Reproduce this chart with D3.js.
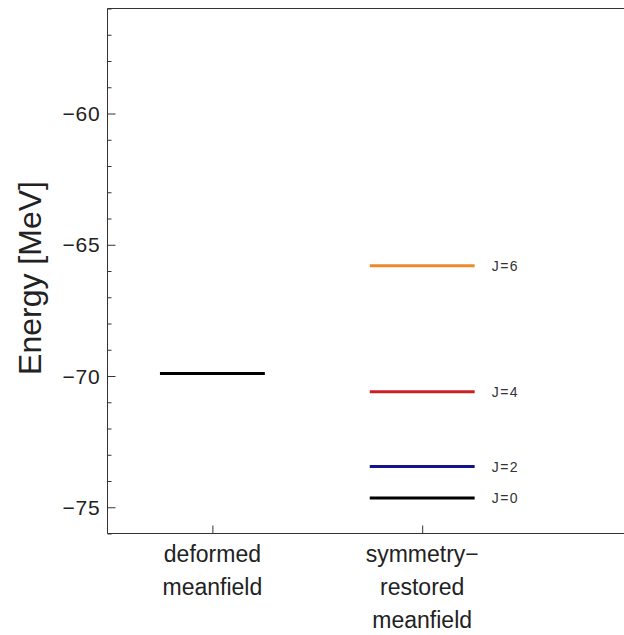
<!DOCTYPE html>
<html><head><meta charset="utf-8">
<script src="https://cdn.jsdelivr.net/npm/d3@7"></script>
<style>body{margin:0;background:#fff}svg{display:block}text{font-family:"Liberation Sans",Arial,sans-serif}</style>
</head><body><svg id="c" width="624" height="635"></svg>
<script>
const categories = ["deformed meanfield", "symmetry\u2212 restored meanfield"];
const categoryLines = [["deformed","meanfield"],["symmetry\u2212","restored","meanfield"]];
const levelCategory = [0, 1, 1, 1, 1];
const levelEnergy = [-69.9, -65.8, -70.6, -73.45, -74.65];
const levelLabel = ["", "J=6", "J=4", "J=2", "J=0"];
const levelColor = ["#000000", "#ec8a2a", "#cc2020", "#141488", "#000000"];
const yTicks = [-75, -70, -65, -60];

const svg = d3.select("#c");
const L = 107.5, T = 8.5, B = 533.5, R = 632;
const x = d3.scaleLinear().domain([0.5, 3]).range([L, R]);
const y = d3.scaleLinear().domain([-76, -56]).range([B, T]);

// frame
svg.append("path").attr("d", `M${L},${B}V${T}H${R}`).attr("fill","none").attr("stroke","#333").attr("stroke-width",1);
svg.append("path").attr("d", `M${L},${B}H${R}`).attr("fill","none").attr("stroke","#333").attr("stroke-width",1);

// y axis major ticks
const yAxis = d3.axisRight(y).tickValues(yTicks).tickSize(8).tickFormat("");
const gy = svg.append("g").attr("transform",`translate(${L},0)`).call(yAxis);
gy.select(".domain").remove();
gy.selectAll("line").attr("stroke","#333");
// minor ticks
const minor = d3.range(-76, -55).filter(v => !yTicks.includes(v));
const gym = svg.append("g").attr("transform",`translate(${L},0)`).call(d3.axisRight(y).tickValues(minor).tickSize(4).tickFormat(""));
gym.select(".domain").remove();
gym.selectAll("line").attr("stroke","#333");
// y tick labels
svg.append("g").selectAll("text").data(yTicks).join("text")
  .attr("x", L - 7).attr("y", d => y(d)).attr("dy","0.36em")
  .attr("text-anchor","end").attr("font-size",21).attr("letter-spacing","0.8px").attr("fill","#222")
  .text(d => d3.format("")(d).replace("-","\u2212"));

// y label
svg.append("text").attr("transform",`translate(41,278) rotate(-90)`)
  .attr("text-anchor","middle").attr("font-size",32).attr("fill","#222").text("Energy [MeV]");

// x ticks
const gx = svg.append("g").attr("transform",`translate(0,${B})`)
  .call(d3.axisTop(x).tickValues([1,2]).tickSize(8).tickFormat(""));
gx.select(".domain").remove();
gx.selectAll("line").attr("stroke","#333");

// x labels
categoryLines.forEach((lines, i) => {
  lines.forEach((t, j) => {
    svg.append("text").attr("x", x(i+1)).attr("y", 562 + j*33)
      .attr("text-anchor","middle").attr("font-size",23).attr("fill","#222").text(t);
  });
});

// levels
svg.append("g").selectAll("line").data(levelEnergy).join("line")
  .attr("x1",(d,i)=>x(levelCategory[i]+1-0.25)).attr("x2",(d,i)=>x(levelCategory[i]+1+0.25))
  .attr("y1",d=>y(d)).attr("y2",d=>y(d))
  .attr("stroke",(d,i)=>levelColor[i]).attr("stroke-width",3);
svg.append("g").selectAll("text").data(levelEnergy).join("text")
  .attr("x",(d,i)=>x(levelCategory[i]+1+0.25)+17).attr("y",d=>y(d)).attr("dy","0.36em")
  .attr("font-size",14).attr("letter-spacing","1.5px").attr("fill","#333").text((d,i)=>levelLabel[i]);
</script></body></html>
